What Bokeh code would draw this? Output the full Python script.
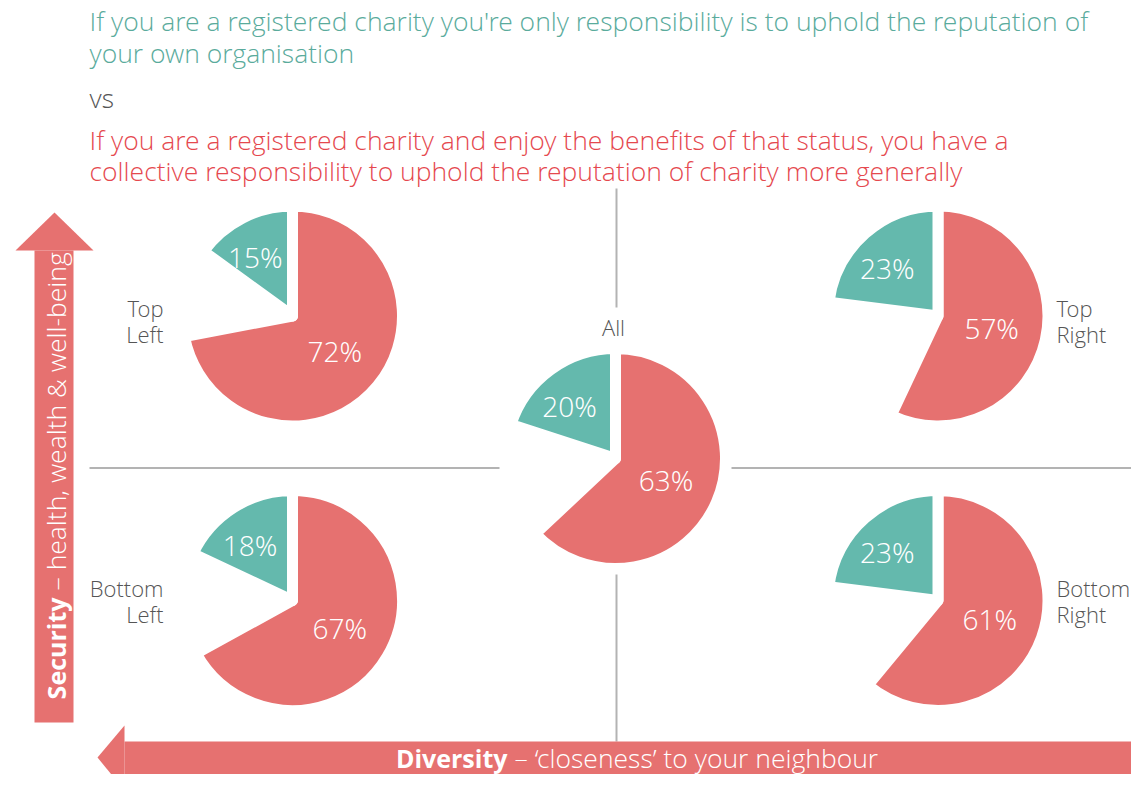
import math
from bokeh.plotting import figure
from bokeh.models import Range1d
from bokeh.core.properties import value
from bokeh.embed import file_html
from bokeh.resources import INLINE

# ---------------- data ----------------
groups = ["Top Left", "Top Right", "All", "Bottom Left", "Bottom Right"]
collective = [72, 57, 63, 67, 61]   # red: collective responsibility
own_org = [15, 23, 20, 18, 23]      # teal: own organisation only

title_own = ["If you are a registered charity you're only responsibility is to uphold the reputation of",
             "your own organisation"]
title_vs = "vs"
title_coll = ["If you are a registered charity and enjoy the benefits of that status, you have a",
              "collective responsibility to uphold the reputation of charity more generally"]

# ---------------- layout (image pixels) ----------------
PW, PH = 1131, 774
def Y(y):
    return PH - y

centers = {"Top Left": (292, 315.5), "Top Right": (937.5, 315.5), "All": (615, 458),
           "Bottom Left": (292, 600), "Bottom Right": (937.5, 600)}
R = 110          # outer radius incl. white stroke
GAP = 11         # white stroke width (gap between slices)

RED = "#e67170"
TEAL = "#64b9ad"
RED_TXT = "#e5484e"
TEAL_TXT = "#5aab9c"
GREY = "#555555"
FONT = "Open Sans Light, Open Sans"
FONT_B = "Open Sans"

p = figure(width=PW, height=PH, output_backend="svg", toolbar_location=None,
           x_range=Range1d(0, PW), y_range=Range1d(0, PH), min_border=0)
p.axis.visible = False
p.grid.visible = False
p.outline_line_color = None
p.background_fill_color = "white"
p.border_fill_color = "white"

# ---------------- quadrant lines ----------------
LC = "#b3b3b3"
p.segment(x0=[89, 731, 616, 616], y0=[Y(467.5), Y(467.5), Y(188), Y(574)],
          x1=[499, 1147, 616, 616], y1=[Y(467.5), Y(467.5), Y(307), Y(741)],
          line_color=LC, line_width=2)

# ---------------- arrows ----------------
# vertical (Security)
p.quad(left=[34], right=[73], top=[Y(250)], bottom=[Y(722)], fill_color=RED, line_color=None)
p.patch(x=[15, 93, 54], y=[Y(250), Y(250), Y(212)], fill_color=RED, line_color=None)
# horizontal (Diversity)
p.quad(left=[124], right=[1150], top=[Y(741)], bottom=[Y(775)], fill_color=RED, line_color=None)
p.patch(x=[124, 124, 97], y=[Y(725), Y(790), Y(757)], fill_color=RED, line_color=None)

p.text(x=[55], y=[Y(597)], text=["Security"], angle=math.pi / 2, text_align="right",
       text_baseline="middle", text_color="white", text_font=value(FONT_B),
       text_font_style="bold", text_font_size="25px")
p.text(x=[55], y=[Y(590)], text=["\u2013 health, wealth & well-being"], angle=math.pi / 2,
       text_align="left", text_baseline="middle", text_color="white",
       text_font=value(FONT), text_font_size="26.5px")
p.text(x=[507], y=[Y(757)], text=["Diversity"], text_align="right", text_baseline="middle",
       text_color="white", text_font=value(FONT_B), text_font_style="bold", text_font_size="25px")
p.text(x=[514], y=[Y(757)], text=["\u2013 \u2018closeness\u2019 to your neighbour"],
       text_align="left", text_baseline="middle", text_color="white",
       text_font=value(FONT), text_font_size="26.5px")

# ---------------- pies ----------------
for g, red_v, teal_v in zip(groups, collective, own_org):
    cx, cy = centers[g]
    top = math.pi / 2
    r_start = top - red_v / 100 * 2 * math.pi
    t_end = top + teal_v / 100 * 2 * math.pi
    p.wedge(x=[cx], y=[Y(cy)], radius=R, start_angle=[r_start], end_angle=[top],
            fill_color=RED, line_color="white", line_width=GAP, line_join="round")
    p.wedge(x=[cx], y=[Y(cy)], radius=R, start_angle=[top], end_angle=[t_end],
            fill_color=TEAL, line_color="white", line_width=GAP, line_join="round")
    # labels
    rm = (top + r_start) / 2
    tm = (top + t_end) / 2 + math.radians(5)
    p.text(x=[cx + 55 * math.cos(rm)], y=[Y(cy) + 55 * math.sin(rm)], text=[f"{red_v}%"],
           text_align="center", text_baseline="middle", text_color="white",
           text_font=value(FONT), text_font_size="28px")
    p.text(x=[cx + 70 * math.cos(tm)], y=[Y(cy) + 70 * math.sin(tm)], text=[f"{teal_v}%"],
           text_align="center", text_baseline="middle", text_color="white",
           text_font=value(FONT), text_font_size="28px")

# ---------------- group labels ----------------
lab = dict(text_color=GREY, text_font=value(FONT), text_font_size="22px", text_baseline="middle")
p.text(x=[163, 163], y=[Y(307), Y(333)], text=["Top", "Left"], text_align="right", **lab)
p.text(x=[163, 163], y=[Y(587), Y(613)], text=["Bottom", "Left"], text_align="right", **lab)
p.text(x=[1056, 1056], y=[Y(307), Y(333)], text=["Top", "Right"], text_align="left", **lab)
p.text(x=[1056, 1056], y=[Y(587), Y(613)], text=["Bottom", "Right"], text_align="left", **lab)
p.text(x=[613], y=[Y(326)], text=["All"], text_align="center", **lab)

# ---------------- titles ----------------
tt = dict(text_font=value(FONT), text_font_size="26.5px", text_baseline="alphabetic", text_align="left")
p.text(x=[89, 89], y=[Y(20), Y(52)], text=title_own, text_color=TEAL_TXT, **tt)
p.text(x=[89], y=[Y(97)], text=[title_vs], text_color=GREY, **tt)
p.text(x=[89, 89], y=[Y(139), Y(170)], text=title_coll, text_color=RED_TXT, **tt)

open("out.html", "w").write(file_html(p, INLINE))
